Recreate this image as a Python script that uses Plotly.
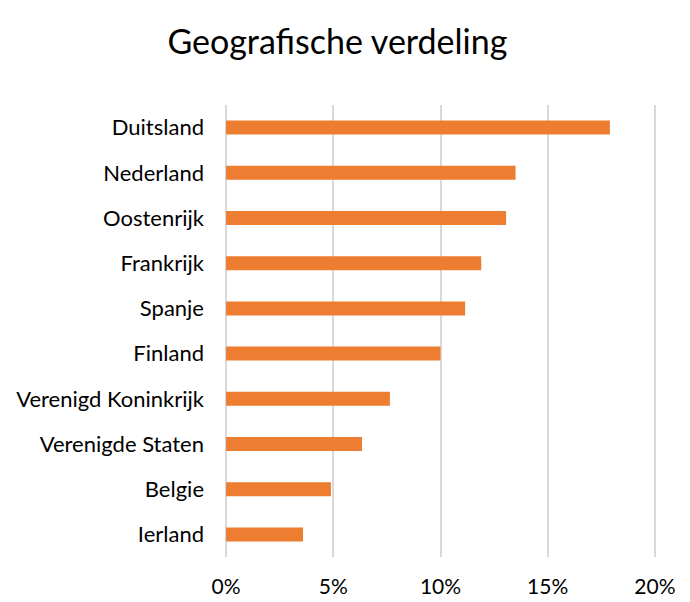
import plotly.graph_objects as go

countries = ["Duitsland", "Nederland", "Oostenrijk", "Frankrijk", "Spanje",
             "Finland", "Verenigd Koninkrijk", "Verenigde Staten", "Belgie", "Ierland"]
shares = [0.179, 0.135, 0.1306, 0.119, 0.1115, 0.100, 0.0764, 0.0634, 0.0489, 0.0359]
x_ticks = [0, 0.05, 0.10, 0.15, 0.20]
x_tick_labels = ["0%", "5%", "10%", "15%", "20%"]

fig = go.Figure(go.Bar(
    x=shares, y=countries, orientation="h",
    marker=dict(color="#ED7D31", line=dict(width=0)),
    width=0.31,
))

font_family = "Lato, Open Sans, sans-serif"
fig.update_layout(
    width=682, height=594,
    margin=dict(l=217, r=34, t=97, b=45, autoexpand=False),
    paper_bgcolor="white", plot_bgcolor="white",
    title=dict(text="Geografische verdeling", x=0.483, xanchor="center",
               y=0.943, yanchor="middle",
               font=dict(family=font_family, size=34, color="#000000")),
    showlegend=False,
    font=dict(family=font_family, size=20.5, color="#000000"),
)
fig.update_xaxes(range=[-0.0005, 0.2005], tickvals=x_ticks, ticktext=x_tick_labels,
                 showgrid=True, gridcolor="#D9D9D9", gridwidth=1.5,
                 zeroline=False, showline=False, ticks="", automargin=False,
                 tickfont=dict(size=21), ticklabelstandoff=15, fixedrange=True)
fig.update_yaxes(categoryorder="array", categoryarray=countries[::-1],
                 showgrid=False, zeroline=False, showline=False, ticks="",
                 automargin=False, tickfont=dict(size=22),
                 ticklabelstandoff=20, fixedrange=True)

fig.write_html("out.html")
